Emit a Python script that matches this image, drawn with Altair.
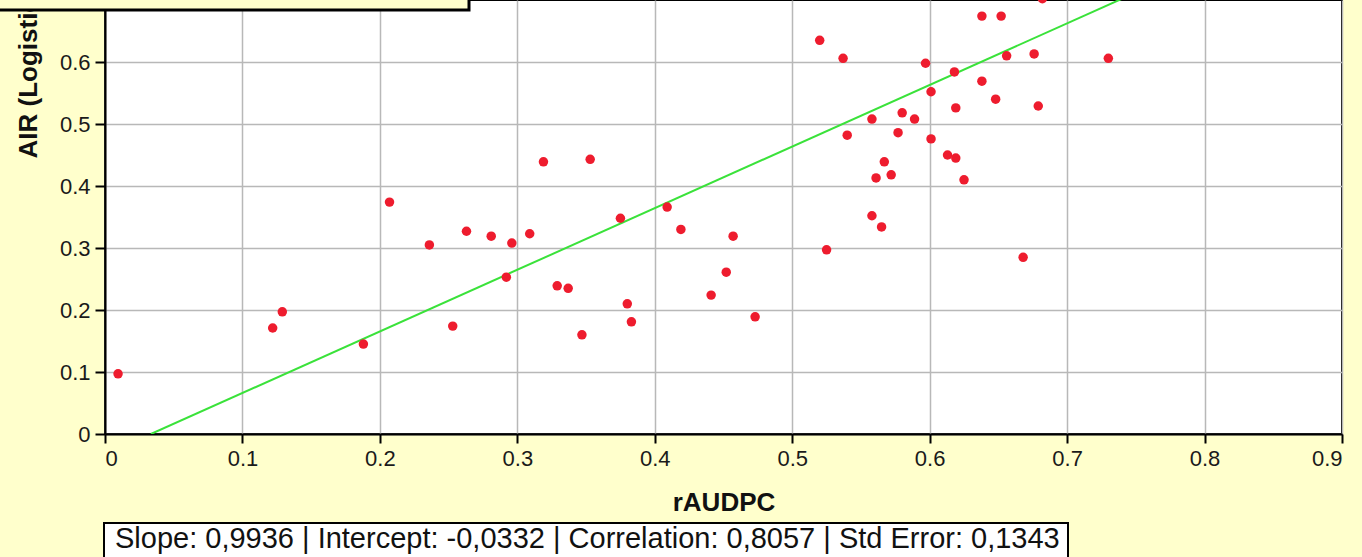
import altair as alt
import pandas as pd

# ---- data ----
raudpc = [0.0095, 0.122, 0.129, 0.188, 0.207, 0.236, 0.253, 0.263, 0.281, 0.292,
          0.296, 0.309, 0.319, 0.329, 0.337, 0.347, 0.353, 0.375, 0.380, 0.383,
          0.409, 0.419, 0.441, 0.452, 0.457, 0.473, 0.525, 0.520, 0.537, 0.540,
          0.558, 0.558, 0.565, 0.561, 0.572, 0.567, 0.577, 0.580, 0.589, 0.597,
          0.601, 0.601, 0.618, 0.619, 0.613, 0.619, 0.625, 0.638, 0.652, 0.638,
          0.648, 0.656, 0.676, 0.679, 0.730, 0.668, 0.682]
air = [0.097, 0.171, 0.197, 0.145, 0.374, 0.305, 0.174, 0.327, 0.319, 0.253,
       0.308, 0.323, 0.439, 0.239, 0.235, 0.160, 0.443, 0.348, 0.210, 0.181,
       0.366, 0.330, 0.224, 0.261, 0.319, 0.189, 0.297, 0.635, 0.606, 0.482,
       0.508, 0.352, 0.334, 0.413, 0.418, 0.439, 0.486, 0.518, 0.508, 0.598,
       0.552, 0.476, 0.584, 0.526, 0.450, 0.445, 0.410, 0.674, 0.674, 0.569,
       0.540, 0.610, 0.613, 0.529, 0.606, 0.285, 0.702]

slope = 0.9936
intercept = -0.0332
stats_text = "Slope: 0,9936 | Intercept: -0,0332 | Correlation: 0,8057 | Std Error: 0,1343"

x_ticks = [0, 0.1, 0.2, 0.3, 0.4, 0.5, 0.6, 0.7, 0.8, 0.9]
y_ticks = [0, 0.1, 0.2, 0.3, 0.4, 0.5, 0.6]
x_domain = [0, 0.9]
y_domain = [0, 0.7]

# ---- tables ----
pts = pd.DataFrame({"rAUDPC": raudpc, "AIR": air})
x_start = -intercept / slope
x_end = (0.75 - intercept) / slope
line_df = pd.DataFrame({
    "rAUDPC": [x_start, x_end],
    "AIR": [slope * x_start + intercept, slope * x_end + intercept],
})
one = pd.DataFrame({"k": [0]})

W, H = 1237, 434
FONT = "Liberation Sans"

xscale = alt.Scale(domain=x_domain, nice=False, zero=False)
yscale = alt.Scale(domain=y_domain, nice=False)

x_axis = alt.Axis(values=x_ticks, format="~g", title="rAUDPC",
                  titleFontSize=26, titleFontWeight="bold", titleFont=FONT,
                  titleColor="#111111", titleY=76, titleBaseline="alphabetic",
                  tickSize=9, labelPadding=5)
y_axis = alt.Axis(values=y_ticks, format="~g", title="AIR (Logistic)",
                  titleFontSize=26, titleFontWeight="bold", titleFont=FONT,
                  titleColor="#111111", titleAngle=270, titleAlign="left",
                  titleBaseline="alphabetic", titleX=-69, titleY=158,
                  tickSize=10, labelPadding=5)

enc_x = alt.X("rAUDPC:Q", scale=xscale, axis=x_axis)
enc_y = alt.Y("AIR:Q", scale=yscale, axis=y_axis)

line = alt.Chart(line_df).mark_line(color="#3ae23a", strokeWidth=2, clip=True).encode(
    x=enc_x, y=enc_y)

points = alt.Chart(pts).mark_circle(color="#ee1c2e", size=90, opacity=1, clip=True).encode(
    x=enc_x, y=enc_y)

top_box = alt.Chart(one).mark_rect(fill="#ffffcc", stroke="#000000", strokeWidth=3).encode(
    x=alt.value(-110), x2=alt.value(364), y=alt.value(-20), y2=alt.value(10))

stats_box = alt.Chart(one).mark_rect(fill="#ffffff", stroke="#000000", strokeWidth=2).encode(
    x=alt.value(-1), x2=alt.value(963), y=alt.value(523), y2=alt.value(565))

stats_label = alt.Chart(one).mark_text(
    text=stats_text, font=FONT, fontSize=29, color="#111111",
    align="left", baseline="alphabetic").encode(
    x=alt.value(10), y=alt.value(548))

chart = alt.layer(line, points, top_box, stats_box, stats_label).properties(
    width=W, height=H,
    autosize=alt.AutoSizeParams(type="none"),
    padding={"left": 105, "top": 0, "right": 20, "bottom": 123},
    background="#ffffcc",
).configure_view(
    fill="#ffffff", stroke="#000000", strokeWidth=2,
).configure_axis(
    domainColor="#000000", domainWidth=2,
    tickColor="#000000", tickWidth=2,
    gridColor="#b8b8b8", gridWidth=1.5,
    labelFont=FONT, labelFontSize=22, labelColor="#1a1a1a",
)

chart.save("out.html", embed_options={"renderer": "svg", "actions": False})
